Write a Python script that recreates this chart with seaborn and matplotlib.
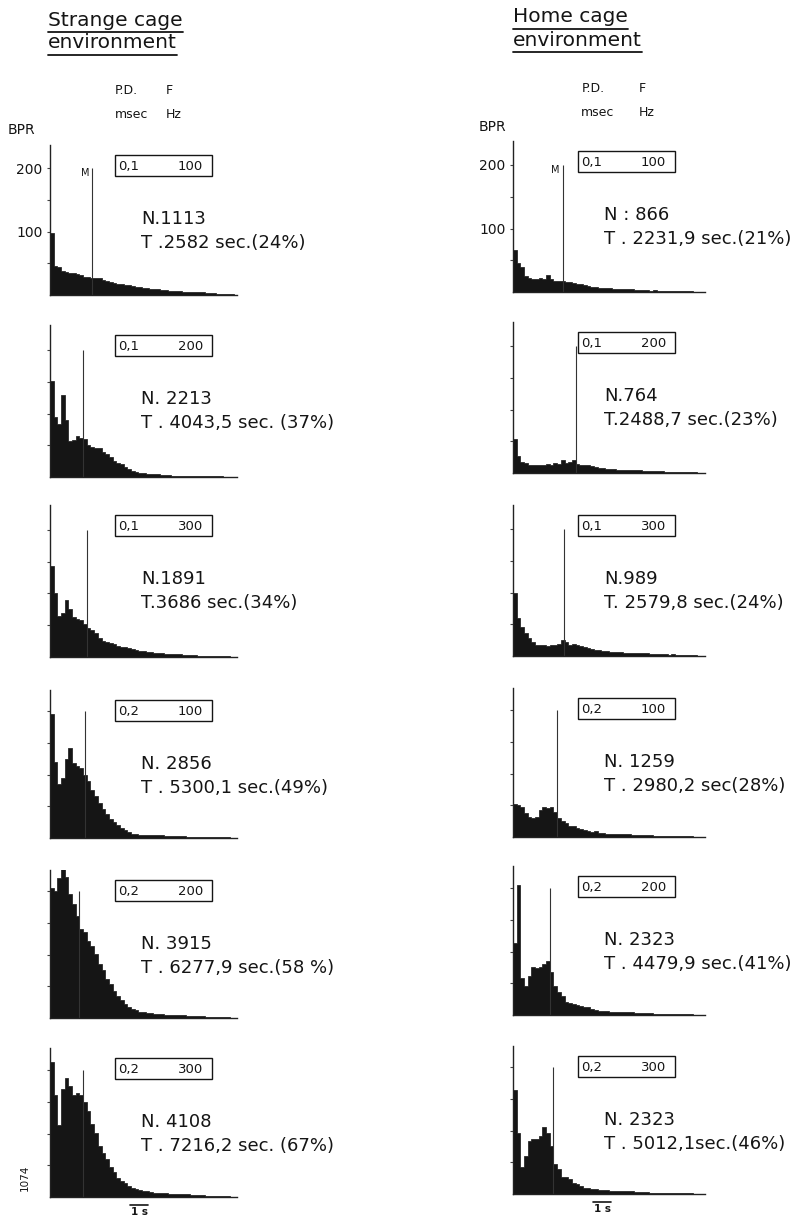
import numpy as np
import pandas as pd
import matplotlib
matplotlib.use("Agg")
import matplotlib.pyplot as plt
import seaborn as sns
from matplotlib.patches import Rectangle
from matplotlib.lines import Line2D

sns.set_theme(style="white")
plt.rcParams["font.family"] = ["DejaVu Sans"]

# ---------------- data ----------------
BIN_W = 0.2  # s, histogram bin width (0 - 10 s)

strange_L1 = [97, 46, 44, 38, 36, 35, 34, 33, 31, 29, 28, 27, 27, 26, 24, 22, 20, 19, 18, 17,
              16, 15, 14, 13, 12, 11, 11, 10, 10, 9, 8, 8, 7, 7, 6, 6, 5, 5, 5, 4,
              4, 4, 3, 3, 3, 2, 2, 2, 1, 1]
strange_L2 = [151, 95, 84, 129, 90, 56, 58, 64, 62, 60, 50, 48, 46, 45, 40, 37, 32, 25, 22, 20,
              15, 13, 10, 8, 6, 6, 5, 5, 4, 4, 3, 3, 3, 2, 2, 2, 2, 2, 1, 1,
              1, 1, 1, 1, 1, 1, 1, 0, 0, 0]
strange_L3 = [143, 100, 64, 70, 89, 75, 63, 60, 58, 52, 45, 42, 38, 30, 25, 24, 22, 20, 17, 16,
              15, 14, 13, 11, 10, 9, 8, 8, 7, 6, 6, 5, 5, 4, 4, 4, 3, 3, 3, 3,
              2, 2, 2, 2, 2, 1, 1, 1, 1, 0]
strange_L4 = [195, 120, 85, 95, 125, 142, 118, 113, 110, 100, 89, 75, 66, 55, 45, 38, 30, 25, 20, 15,
              12, 9, 7, 6, 5, 5, 5, 4, 4, 4, 4, 3, 3, 3, 3, 3, 3, 2, 2, 2,
              2, 2, 2, 2, 1, 1, 1, 1, 1, 0]
strange_L5 = [205, 200, 220, 235, 222, 195, 179, 160, 140, 135, 122, 114, 100, 85, 75, 62, 53, 43, 34, 28,
              22, 18, 14, 12, 10, 9, 8, 8, 7, 6, 6, 5, 5, 5, 4, 4, 4, 3, 3, 3,
              3, 3, 2, 2, 2, 2, 1, 1, 1, 0]
strange_L6 = [212, 160, 113, 170, 188, 175, 161, 164, 160, 150, 135, 115, 100, 80, 70, 60, 48, 39, 30, 25,
              22, 18, 14, 12, 11, 10, 9, 8, 7, 7, 6, 6, 5, 5, 5, 4, 4, 4, 3, 3,
              3, 3, 2, 2, 2, 2, 2, 1, 1, 0]

home_R1 = [66, 45, 39, 25, 22, 21, 20, 22, 20, 27, 20, 18, 17, 18, 16, 15, 14, 13, 12, 11,
           9, 8, 8, 7, 6, 6, 7, 5, 5, 5, 4, 4, 4, 3, 3, 3, 3, 2, 3, 2,
           2, 2, 2, 2, 1, 2, 1, 1, 1, 0]
home_R2 = [53, 26, 18, 16, 13, 12, 13, 12, 13, 14, 13, 15, 14, 21, 16, 18, 20, 14, 13, 12,
           12, 11, 9, 8, 8, 7, 6, 6, 5, 5, 5, 4, 4, 4, 4, 3, 3, 3, 3, 3,
           3, 2, 2, 2, 2, 2, 2, 1, 1, 1]
home_R3 = [100, 60, 45, 36, 28, 22, 18, 17, 17, 16, 17, 18, 19, 25, 22, 18, 19, 17, 16, 14,
           12, 11, 10, 9, 8, 8, 7, 7, 6, 6, 5, 5, 5, 4, 4, 4, 4, 3, 3, 3,
           3, 3, 2, 3, 2, 2, 2, 1, 1, 1]
home_R4 = [52, 50, 48, 38, 32, 30, 32, 42, 48, 46, 48, 40, 30, 25, 22, 18, 17, 14, 12, 11,
           9, 8, 10, 6, 6, 5, 5, 5, 4, 4, 4, 4, 3, 3, 3, 3, 3, 3, 2, 2,
           2, 2, 2, 2, 1, 1, 1, 1, 1, 0]
home_R5 = [113, 205, 58, 45, 62, 75, 74, 76, 80, 85, 68, 45, 36, 30, 20, 19, 18, 16, 14, 13,
           12, 10, 8, 7, 6, 6, 5, 5, 5, 4, 4, 4, 4, 3, 3, 3, 3, 3, 2, 2,
           2, 2, 2, 2, 2, 1, 1, 1, 1, 0]
home_R6 = [163, 96, 42, 60, 84, 86, 87, 92, 105, 96, 75, 48, 40, 27, 26, 24, 17, 15, 12, 10,
           9, 8, 8, 7, 6, 6, 5, 5, 5, 4, 4, 4, 4, 3, 3, 3, 3, 2, 2, 2,
           2, 2, 2, 2, 1, 1, 1, 1, 1, 0]

strange_counts = [strange_L1, strange_L2, strange_L3, strange_L4, strange_L5, strange_L6]
home_counts = [home_R1, home_R2, home_R3, home_R4, home_R5, home_R6]

strange_M = [2.3, 1.8, 2.0, 1.9, 1.6, 1.8]
home_M = [2.7, 3.4, 2.75, 2.4, 2.0, 2.2]
M_height = 200

pd_labels = ["0,1", "0,1", "0,1", "0,2", "0,2", "0,2"]
f_labels = ["100", "200", "300", "100", "200", "300"]

strange_N = ["N.1113", "N. 2213", "N.1891", "N. 2856", "N. 3915", "N. 4108"]
strange_T = ["T .2582 sec.(24%)", "T . 4043,5 sec. (37%)", "T.3686 sec.(34%)",
             "T . 5300,1 sec.(49%)", "T . 6277,9 sec.(58 %)", "T . 7216,2 sec. (67%)"]
home_N = ["N : 866", "N.764", "N.989", "N. 1259", "N. 2323", "N. 2323"]
home_T = ["T . 2231,9 sec.(21%)", "T.2488,7 sec.(23%)", "T. 2579,8 sec.(24%)",
          "T . 2980,2 sec(28%)", "T . 4479,9 sec.(41%)", "T . 5012,1sec.(46%)"]

y_ticks = [50, 100, 150, 200]
y_ticklabels_top = ["", "100", "", "200"]

# ---------------- layout ----------------
W, H = 802, 1218
fig = plt.figure(figsize=(W / 100, H / 100), dpi=100)
fig.patch.set_facecolor("white")
INK = "#151515"


def fx(x):
    return x / W


def fy(y):
    return 1 - y / H


PX_PER_UNIT = 0.635
PX_PER_S = 18.4

columns = [
    dict(x0=50, w=187, tops=[145, 325, 505, 690, 870, 1048],
         bases=[295, 477, 657, 838, 1018, 1197],
         counts=strange_counts, M=strange_M, N=strange_N, T=strange_T),
    dict(x0=513, w=192, tops=[141, 322, 505, 688, 866, 1046],
         bases=[292, 473, 656, 837, 1015, 1194],
         counts=home_counts, M=home_M, N=home_N, T=home_T),
]

n_bins = len(strange_L1)
bin_left = [BIN_W * k for k in range(n_bins)]

for col in columns:
    x0, w = col["x0"], col["w"]
    for i in range(6):
        top, base = col["tops"][i], col["bases"][i]
        hpx = base - top
        ax = fig.add_axes([fx(x0), fy(base), w / W, hpx / H])
        df = pd.DataFrame({"t": [b + BIN_W / 2 for b in bin_left],
                           "bpr": col["counts"][i]})
        sns.histplot(data=df, x="t", weights="bpr", binwidth=BIN_W,
                     binrange=(0, n_bins * BIN_W), element="step",
                     fill=True, color=INK, alpha=1, linewidth=0.5, ax=ax)
        ax.vlines(col["M"][i], 0, M_height, color="#333333", lw=0.8)
        ax.set_xlim(0, w / PX_PER_S)
        ax.set_ylim(0, hpx / PX_PER_UNIT)
        ax.set_xlabel("")
        ax.set_ylabel("")
        ax.set_facecolor("none")
        for s in ["top", "right"]:
            ax.spines[s].set_visible(False)
        for s in ["left", "bottom"]:
            ax.spines[s].set_color("#222222")
            ax.spines[s].set_linewidth(1.0)
        ax.set_xticks([])
        ax.set_yticks(y_ticks)
        ax.set_yticklabels(y_ticklabels_top if i == 0 else [""] * 4)
        ax.tick_params(axis="y", left=True, direction="out", length=2.5, width=0.8,
                       color="#444444", labelsize=10, pad=3, labelcolor=INK)
        if i == 0:
            ax.text(col["M"][i] - 0.18, M_height, "M", ha="right", va="top",
                    fontsize=7, color=INK)
        if i == 5:
            ax.plot([4.35, 5.35], [-12, -12], color=INK, lw=1.2, clip_on=False)
            ax.text(4.85, -16, "1 s", ha="center", va="top", fontsize=7.5,
                    fontweight="bold", color=INK, clip_on=False)

        # P.D. / F box
        bx, by, bw, bh = x0 + 65, top + 10, 97, 21
        fig.add_artist(Rectangle((fx(bx), fy(by + bh)), bw / W, bh / H,
                                 transform=fig.transFigure, fill=False,
                                 edgecolor=INK, lw=1.0))
        fig.text(fx(bx + 3), fy(by + bh / 2 + 1), pd_labels[i], ha="left",
                 va="center", fontsize=9.5, color=INK)
        fig.text(fx(bx + bw - 9), fy(by + bh / 2 + 1), f_labels[i], ha="right",
                 va="center", fontsize=9.5, color=INK)

        fig.text(fx(x0 + 91), fy(top + 74), col["N"][i], ha="left", va="center",
                 fontsize=13, color=INK)
        fig.text(fx(x0 + 91), fy(top + 98), col["T"][i], ha="left", va="center",
                 fontsize=13, color=INK)

# headers
headers = [(48, 20, "Strange cage"), (48, 43, "environment"),
           (513, 17, "Home cage"), (513, 40, "environment")]
htexts = []
for x, y, s in headers:
    t = fig.text(fx(x), fy(y), s, ha="left", va="center", fontsize=14.5, color=INK)
    htexts.append(t)

# column annotations
for x, y, s in [(115, 90, "P.D."), (166, 90, "F"), (115, 115, "msec"), (166, 115, "Hz"),
                (582, 88, "P.D."), (639, 88, "F"), (581, 113, "msec"), (639, 113, "Hz")]:
    fig.text(fx(x), fy(y), s, ha="left", va="center", fontsize=9, color=INK)

fig.text(fx(8), fy(130), "BPR", ha="left", va="center", fontsize=10, color=INK)
fig.text(fx(479), fy(127), "BPR", ha="left", va="center", fontsize=10, color=INK)
fig.text(fx(25), fy(1178), "1074", ha="center", va="center", rotation=90,
         fontsize=7.5, color=INK)

# underline headers
fig.canvas.draw()
renderer = fig.canvas.get_renderer()
inv = fig.transFigure.inverted()
for t in htexts:
    bb = t.get_window_extent(renderer)
    (a0, b0), (a1, b1) = inv.transform([[bb.x0, bb.y0], [bb.x1, bb.y1]])
    fig.add_artist(Line2D([a0, a1], [b0 - 2 / H, b0 - 2 / H],
                          transform=fig.transFigure, color=INK, lw=1.3))

fig.savefig("out.png", dpi=100, facecolor="white")
